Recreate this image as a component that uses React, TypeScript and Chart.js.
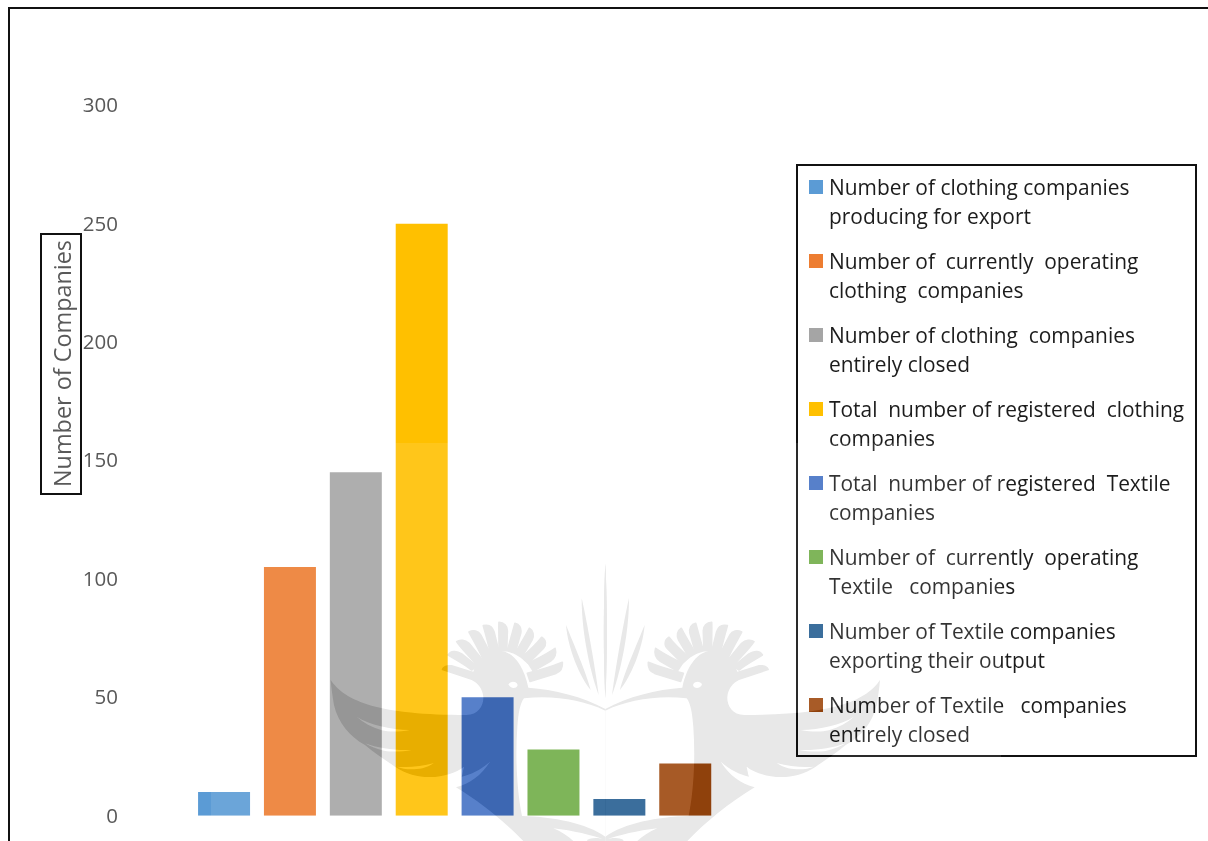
import React, { useEffect, useRef } from "react";
import { Chart, registerables } from "chart.js";

Chart.register(...registerables);

const categories = [""];
const seriesNames = [
  ["Number of clothing companies", "producing for export"],
  ["Number of  currently  operating", "clothing  companies"],
  ["Number of clothing  companies", "entirely closed"],
  ["Total  number of registered  clothing", "companies"],
  ["Total  number of registered  Textile", "companies"],
  ["Number of  currently  operating", "Textile   companies"],
  ["Number of Textile companies", "exporting their output"],
  ["Number of Textile   companies", "entirely closed"],
];
const seriesValues = [10, 105, 145, 250, 50, 28, 7, 22];
const seriesColors = ["#5B9BD5", "#ED7D31", "#A5A5A5", "#FFC000", "#4472C4", "#70AD47", "#255E91", "#9E480E"];
const axisTitle = "Number of Companies";

const FONT = "'Open Sans', sans-serif";

// Crest feathers of the emblem bird, tip to base.
const crest = [
  "M385,285 C392,272 410,272 425,282 L470,318 L455,330 C430,310 405,298 385,285Z",
  "M410,245 C420,238 435,240 447,250 L488,300 L470,315 C450,290 425,268 410,245Z",
  "M447,216 C460,210 475,212 482,225 L512,282 L490,298 C475,265 460,240 447,216Z",
  "M490,197 C505,193 517,200 522,215 L536,272 L512,282 C505,250 498,225 490,197Z",
  "M537,187 C552,187 562,198 562,212 L560,272 L537,272 C538,245 536,215 537,187Z",
  "M585,190 C598,192 605,205 602,220 L585,280 L562,272 C570,245 578,215 585,190Z",
  "M628,205 C640,212 643,228 636,240 L605,292 L585,280 C600,255 615,230 628,205Z",
  "M665,232 C678,240 680,255 670,265 L625,310 L605,292 C625,275 648,255 665,232Z",
  "M705,265 C710,280 705,295 692,303 L640,333 L625,310 C650,297 680,283 705,265Z",
  "M727,307 C728,322 722,335 708,340 L630,364 L622,340 C655,332 695,320 727,307Z",
];

// Wing, head, beak and body of the emblem bird.
const bodyOutline =
  "M32,360 C75,425 180,465 440,465 C475,465 492,435 490,410 C488,385 472,368 455,360 L365,330 C366,320 378,313 395,315 L460,335 C470,300 500,280 540,272 C575,275 610,310 625,383 C700,388 790,410 856,447 L856,843 L610,843 C560,790 480,725 408,682 C450,672 485,645 510,605 C480,632 455,642 425,650 C430,640 428,630 432,620 C395,650 300,672 225,620 C195,600 165,580 135,555 C90,530 55,490 42,435 C38,410 34,385 32,360Z";

// Palm fronds rising from the book's spine.
const fronds = [
  "M856,10 C862,130 862,300 856,415 C850,300 850,130 856,10Z",
  "M785,115 C800,180 825,320 836,405 C815,350 785,230 785,115Z",
  "M738,195 C760,250 800,340 812,390 C780,350 745,270 738,195Z",
];

// Gaps cut out of the emblem.
const gaps = [
  "M110,470 C150,495 210,508 270,510 C240,516 205,516 185,511 C155,502 130,488 110,470Z",
  "M135,550 C175,565 225,572 275,570 C245,576 215,576 192,572 C170,567 150,560 135,550Z",
  "M230,620 C265,622 305,620 342,609 C320,625 295,628 275,628 C258,628 242,625 230,620Z",
  "M362,658 C395,655 415,640 432,620 C428,640 415,660 400,665 C385,666 372,662 362,658Z",
  "M566,373 C570,362 590,362 593,375 C592,387 570,388 566,373Z",
  "M700,805 C760,812 815,825 856,840 C820,825 790,843 805,843 L760,843 C745,830 725,815 700,805Z",
  "M612,415 C700,405 790,420 856,452 L856,830 C800,790 700,770 606,768 C592,700 585,600 592,500 C595,460 600,430 612,415Z",
];

function EmblemHalf({ paths }: { paths: string[] }) {
  return (
    <>
      <g>{paths.map((d, i) => <path key={i} d={d} />)}</g>
      <g transform="translate(1712,0) scale(-1,1)">{paths.map((d, i) => <path key={i} d={d} />)}</g>
    </>
  );
}

function EmblemShapes({ fill }: { fill: string }) {
  return (
    <g transform="translate(320,560) scale(0.33333)" fill={fill}>
      <EmblemHalf paths={[bodyOutline, ...fronds]} />
      <g stroke={fill} strokeWidth={5} strokeLinejoin="round">
        <EmblemHalf paths={crest} />
      </g>
    </g>
  );
}

// Faint emblem printed over the whole figure.
function Emblem() {
  return (
    <svg width={1208} height={841} style={{ position: "absolute", left: 0, top: 0, pointerEvents: "none" }}>
      <defs>
        <mask id="gapsMask" maskUnits="userSpaceOnUse" x={-1000} y={-1000} width={4000} height={4000}>
          <rect x={-1000} y={-1000} width={4000} height={4000} fill="#fff" />
          <g transform="translate(320,560) scale(0.33333)" fill="#000">
            <EmblemHalf paths={gaps} />
          </g>
        </mask>
        <mask id="sheetMask" maskUnits="userSpaceOnUse" x={0} y={0} width={1208} height={841}>
          <rect x={0} y={0} width={1208} height={841} fill="#fff" />
          <g mask="url(#gapsMask)">
            <EmblemShapes fill="#000" />
          </g>
        </mask>
      </defs>
      <rect x={211} y={443} width={790} height={398} fill="#fff" opacity={0.1} mask="url(#sheetMask)" />
      <g mask="url(#gapsMask)" opacity={0.09}>
        <EmblemShapes fill="#000" />
      </g>
    </svg>
  );
}

export default function App() {
  const canvasRef = useRef<HTMLCanvasElement | null>(null);

  useEffect(() => {
    const chart = new Chart(canvasRef.current!, {
      type: "bar",
      data: {
        labels: categories,
        datasets: seriesValues.map((v, i) => ({
          label: seriesNames[i].join(" "),
          data: [v],
          backgroundColor: seriesColors[i],
          categoryPercentage: 0.8125,
          barPercentage: 0.789,
        })),
      },
      options: {
        responsive: false,
        animation: false,
        layout: { padding: { top: 105.3, bottom: 25.3, left: 0, right: 429 } },
        plugins: { legend: { display: false }, tooltip: { enabled: false }, title: { display: false } },
        scales: {
          x: { display: false },
          y: {
            min: 0,
            max: 300,
            afterFit: (scale: any) => { scale.width = 130.3; },
            border: { display: false },
            grid: { display: false, drawTicks: false },
            ticks: {
              stepSize: 50,
              padding: 12.3,
              labelOffset: 1,
              color: "#595959",
              font: { family: FONT, size: 20.5 },
            },
          },
        },
      },
    });
    return () => chart.destroy();
  }, []);

  return (
    <div style={{ position: "fixed", left: 0, top: 0, width: 1208, height: 841, overflow: "hidden", background: "#fff" }}>
      <canvas ref={canvasRef} width={1208} height={841} style={{ position: "absolute", left: 0, top: 0, display: "block" }} />

      {/* outer frame: only its left and top edges fall inside the page */}
      <div style={{ position: "absolute", left: 8, top: 7, width: 1300, height: 900, borderLeft: "2px solid #111", borderTop: "2px solid #111" }} />

      {/* boxed vertical axis title */}
      <div
        style={{
          position: "absolute", left: 40, top: 233, width: 38, height: 258, border: "2px solid #111",
          display: "flex", alignItems: "center", justifyContent: "center",
        }}
      >
        <span
          style={{
            writingMode: "vertical-rl", transform: "rotate(180deg) translateX(-1px)", whiteSpace: "pre",
            font: `23.4px ${FONT}`, color: "#595959",
          }}
        >
          {axisTitle}
        </span>
      </div>

      {/* legend */}
      <div style={{ position: "absolute", left: 796, top: 164, width: 397, height: 589, border: "2px solid #111" }}>
        {seriesNames.map((lines, i) => (
          <div key={i} style={{ position: "absolute", left: 11, top: 7 + i * 74, height: 58 }}>
            <div style={{ position: "absolute", left: 0, top: 7, width: 14, height: 14, background: seriesColors[i] }} />
            {lines.map((line, j) => (
              <div
                key={j}
                style={{
                  position: "absolute", left: 20, top: j * 29, height: 29, whiteSpace: "pre",
                  font: `20.9px/29px ${FONT}`, color: "#1c1c1c",
                }}
              >
                {line}
              </div>
            ))}
          </div>
        ))}
      </div>

      <Emblem />
    </div>
  );
}
